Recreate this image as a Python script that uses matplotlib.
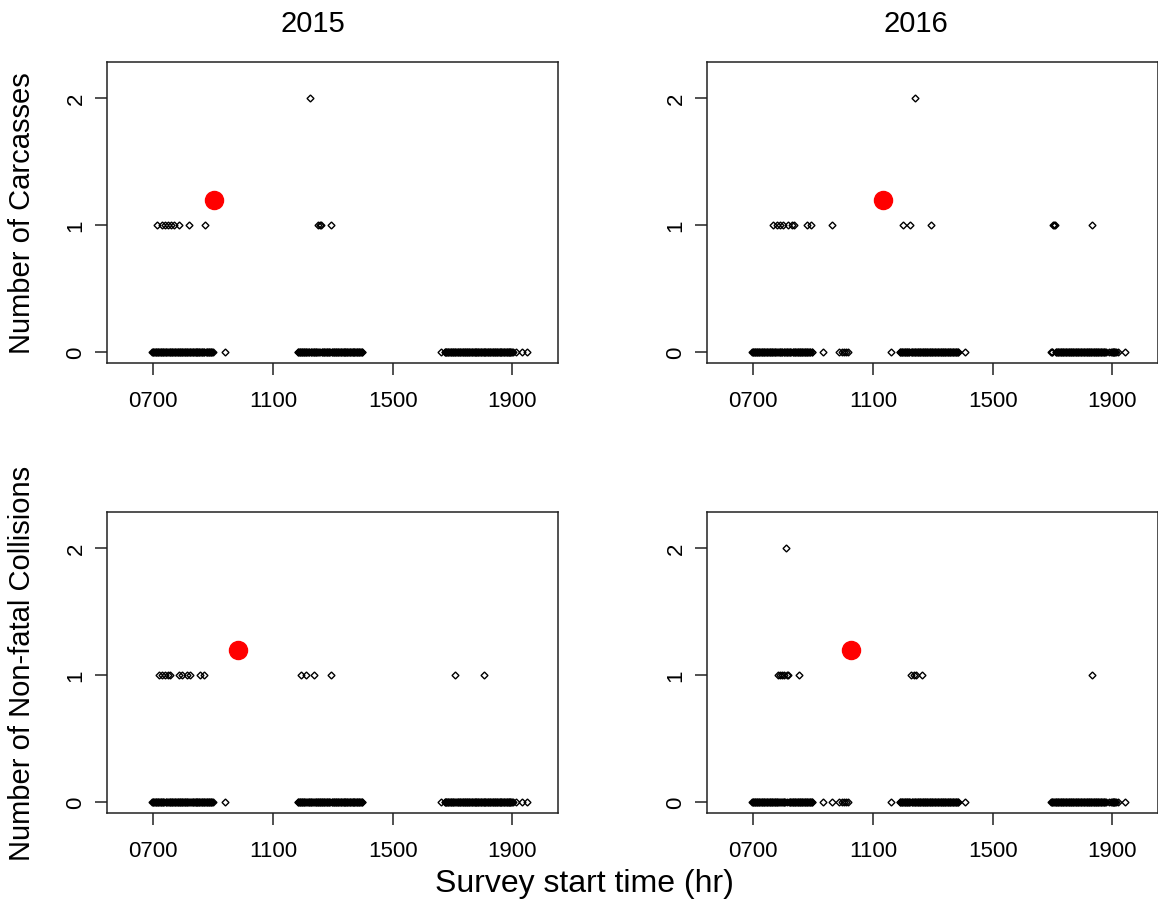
import matplotlib.pyplot as plt

plt.rcParams['font.family'] = ['Liberation Sans', 'DejaVu Sans']

# survey start times (hr x100)
survey_2015 = [696, 698, 700, 703, 705, 708, 710, 713, 715, 717, 720, 722, 725, 727, 729,
               731, 733, 736, 738, 741, 743, 745, 748, 750, 753, 755, 757, 759, 761, 764,
               766, 769, 772, 774, 777, 779, 781, 783, 785, 788, 790, 793, 795, 797, 800,
               802, 805, 807, 809, 812, 814, 817, 819, 821, 824, 826, 829, 831, 833, 836,
               838, 841, 843, 845, 847, 849, 852, 854, 857, 859, 861, 864, 866, 869, 871,
               873, 876, 878, 881, 883, 885, 887, 889, 892, 894, 896, 899, 940,
               1183, 1185, 1187, 1189, 1191, 1194, 1196, 1198, 1200, 1203, 1205, 1208, 1210,
               1212, 1215, 1217, 1220, 1222, 1224, 1226, 1228, 1231, 1233, 1236, 1238, 1240,
               1243, 1245, 1248, 1250, 1252, 1254, 1256, 1258, 1260, 1263, 1265, 1268, 1270,
               1272, 1275, 1277, 1280, 1282, 1284, 1286, 1288, 1291, 1293, 1296, 1298, 1300,
               1303, 1305, 1308, 1310, 1312, 1314, 1316, 1319, 1321, 1324, 1326, 1328, 1331,
               1333, 1336, 1338, 1340, 1342, 1344, 1347, 1349, 1352, 1354, 1356, 1359, 1361,
               1364, 1366, 1368, 1370, 1372, 1375, 1377, 1380, 1382, 1384, 1387, 1389, 1392,
               1394, 1396, 1399,
               1661, 1674, 1676, 1678, 1680, 1682, 1684, 1686, 1689, 1691, 1694, 1696, 1698,
               1701, 1703, 1706, 1708, 1710, 1713, 1715, 1718, 1720, 1722, 1724, 1726, 1729,
               1731, 1734, 1736, 1738, 1741, 1743, 1746, 1748, 1750, 1752, 1754, 1757, 1759,
               1762, 1764, 1766, 1769, 1771, 1774, 1776, 1778, 1780, 1782, 1785, 1787, 1790,
               1792, 1794, 1797, 1799, 1802, 1804, 1806, 1808, 1810, 1813, 1815, 1818, 1820,
               1822, 1825, 1827, 1830, 1832, 1834, 1836, 1838, 1841, 1843, 1846, 1848, 1850,
               1853, 1855, 1858, 1860, 1862, 1864, 1866, 1869, 1871, 1874, 1876, 1878, 1881,
               1883, 1886, 1888, 1890, 1892, 1894, 1897, 1899, 1902, 1914, 1934, 1950]

survey_2016 = [696, 698, 700, 702, 704, 706, 708, 711, 713, 716, 718, 720, 723, 725, 728,
               730, 732, 735, 737, 740, 742, 744, 747, 749, 752, 754, 756, 759, 761, 764,
               766, 768, 771, 773, 776, 778, 780, 783, 785, 788, 790, 792, 795, 797, 800,
               802, 804, 807, 809, 812, 814, 816, 819, 821, 824, 826, 828, 831, 833, 836,
               838, 840, 843, 845, 848, 850, 852, 855, 857, 860, 862, 864, 867, 869, 872,
               874, 876, 879, 881, 884, 886, 888, 891, 893, 895, 897,
               934, 962, 985, 996, 1004, 1010, 1016,
               1160, 1190, 1192, 1194, 1196, 1198, 1201, 1203, 1206, 1208, 1210, 1213, 1215,
               1218, 1220, 1222, 1225, 1227, 1230, 1232, 1234, 1237, 1239, 1242, 1244, 1246,
               1249, 1251, 1254, 1256, 1258, 1261, 1263, 1266, 1268, 1270, 1273, 1275, 1278,
               1280, 1282, 1285, 1287, 1290, 1292, 1294, 1297, 1299, 1302, 1304, 1306, 1309,
               1311, 1314, 1316, 1318, 1321, 1323, 1326, 1328, 1330, 1333, 1335, 1338, 1340,
               1342, 1345, 1347, 1350, 1352, 1354, 1357, 1359, 1362, 1364, 1366, 1369, 1371,
               1374, 1376, 1378, 1381, 1383, 1385, 1408,
               1694, 1697, 1700, 1703, 1705, 1707, 1711, 1713, 1716, 1718, 1720, 1722, 1725,
               1727, 1730, 1732, 1734, 1737, 1739, 1742, 1744, 1746, 1749, 1751, 1754, 1756,
               1758, 1761, 1763, 1766, 1768, 1770, 1773, 1775, 1778, 1780, 1782, 1785, 1787,
               1790, 1792, 1794, 1797, 1799, 1802, 1804, 1806, 1809, 1811, 1814, 1816, 1818,
               1821, 1823, 1826, 1828, 1830, 1833, 1835, 1838, 1840, 1842, 1845, 1847, 1850,
               1852, 1854, 1857, 1859, 1862, 1864, 1866, 1869, 1871, 1874, 1876, 1878, 1890,
               1897, 1899, 1901, 1903, 1905, 1907, 1909, 1912, 1920, 1942]

# surveys with at least one carcass / non-fatal collision
carc_2015_t = [711, 730, 740, 750, 760, 768, 786, 820, 873, 1224, 1252, 1256, 1260, 1293]
carc_2015_n = [1, 1, 1, 1, 1, 1, 1, 1, 1, 2, 1, 1, 1, 1]
nonfatal_2015_t = [718, 728, 738, 748, 756, 787, 796, 813, 824, 856, 868,
                   1193, 1210, 1238, 1293, 1710, 1807]
nonfatal_2015_n = [1] * 17

carc_2016_t = [767, 778, 789, 800, 817, 828, 837, 878, 893, 962,
               1202, 1225, 1240, 1293, 1703, 1705, 1707, 1832]
carc_2016_n = [1, 1, 1, 1, 1, 1, 1, 1, 1, 1, 1, 1, 2, 1, 1, 1, 1, 1]
nonfatal_2016_t = [782, 790, 797, 803, 809, 812, 816, 854, 1227, 1236, 1245, 1265, 1832]
nonfatal_2016_n = [1, 1, 1, 1, 2, 1, 1, 1, 1, 1, 1, 1, 1]

# red markers (mean start time of surveys with events)
red_carc = {2015: 904, 2016: 1134}
red_nonfatal = {2015: 984, 2016: 1025}
red_y = 1.2

xticks = [700, 1100, 1500, 1900]
xtick_labels = ["0700", "1100", "1500", "1900"]
yticks = [0, 1, 2]


def draw_panel(ax, survey, hit_t, hit_n, red_x):
    zero_t = [t for t in survey if t not in hit_t]
    style = dict(marker='D', ms=3.5, mfc='none', mec='black', mew=1.0, ls='none')
    ax.plot(zero_t, [0] * len(zero_t), **style)
    ax.plot(hit_t, hit_n, **style)
    ax.plot([red_x], [red_y], 'o', color='red', ms=13)
    ax.set_xlim(544, 2052)
    ax.set_ylim(-0.088, 2.288)
    ax.set_xticks(xticks)
    ax.set_xticklabels(xtick_labels)
    ax.set_yticks(yticks)
    for lab in ax.get_yticklabels():
        lab.set_rotation(90)
        lab.set_va('center')
    ax.tick_params(direction='out', length=8.6, width=1.1, labelsize=16, pad=11,
                   colors='#222222', labelcolor='black')
    ax.tick_params(axis='y', pad=6)
    for s in ax.spines.values():
        s.set_linewidth(1.1)
        s.set_color('#222222')


W, H = 1158, 904
fig = plt.figure(figsize=(W / 100, H / 100), dpi=100)

panels = [
    ((106.7, 62.7), survey_2015, carc_2015_t, carc_2015_n, red_carc[2015]),
    ((706.7, 62.7), survey_2016, carc_2016_t, carc_2016_n, red_carc[2016]),
    ((106.7, 512.7), survey_2015, nonfatal_2015_t, nonfatal_2015_n, red_nonfatal[2015]),
    ((706.7, 512.7), survey_2016, nonfatal_2016_t, nonfatal_2016_n, red_nonfatal[2016]),
]
for (x0, y0), survey, ht, hn, rx in panels:
    ax = fig.add_axes([x0 / W, 1 - (y0 + 301.3) / H, 451 / W, 301.3 / H])
    draw_panel(ax, survey, ht, hn, rx)

fig.text(313 / W, 1 - 24 / H, "2015", ha='center', va='center', fontsize=21)
fig.text(916 / W, 1 - 24 / H, "2016", ha='center', va='center', fontsize=21)
fig.text(22 / W, 1 - 213 / H, "Number of Carcasses", rotation=90,
         ha='center', va='center', fontsize=21)
fig.text(22 / W, 1 - 663 / H, "Number of Non-fatal Collisions", rotation=90,
         ha='center', va='center', fontsize=21)
fig.text(584 / W, 1 - 884 / H, "Survey start time (hr)", ha='center', va='center', fontsize=23)

fig.savefig("out.png", dpi=100)
